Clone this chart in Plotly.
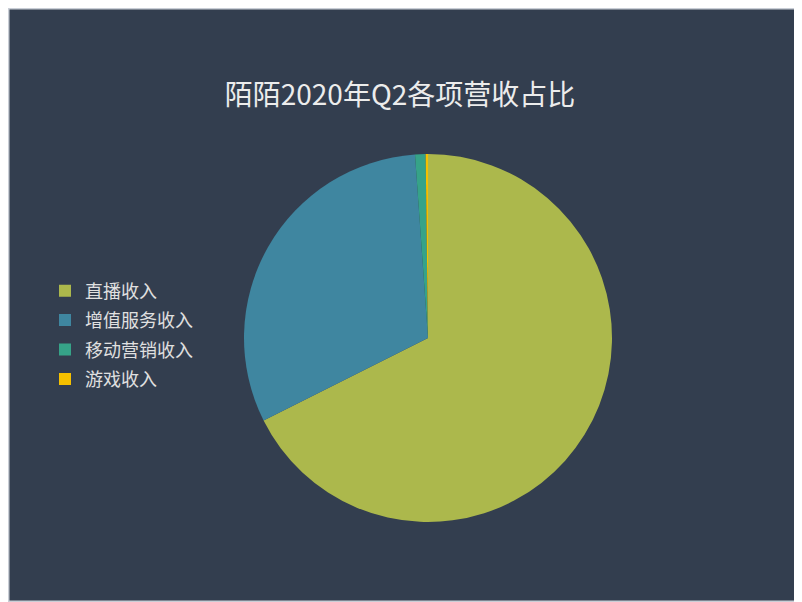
import plotly.graph_objects as go

# 陌陌 2020Q2 各项营收（百万元）
labels = ["直播收入", "增值服务收入", "移动营销收入", "游戏收入"]
revenue = [2420, 1120, 33, 7.3]
colors = ["#acb84c", "#3f86a0", "#36a388", "#f5c000"]

# page has 8px body margin, so the figure is a bit smaller than the window
W, H = 794, 594
cx, cy, r = 420, 330, 184

fig = go.Figure()
fig.add_trace(go.Pie(
    labels=labels, values=revenue, sort=False, direction="clockwise",
    rotation=0, textinfo="none", hoverinfo="label+value+percent",
    marker=dict(colors=colors, line=dict(width=0)),
    domain=dict(x=[(cx - r) / W, (cx + r) / W],
                y=[(H - cy - r) / H, (H - cy + r) / H]),
    showlegend=False,
))

# legend entries (separate groups so the row spacing can be set)
for name, c in zip(labels, colors):
    fig.add_trace(go.Scatter(x=[None], y=[None], mode="markers", name=name,
                             legendgroup=name,
                             marker=dict(symbol="square", size=12, color=c)))

fig.update_layout(
    width=W, height=H,
    margin=dict(l=0, r=0, t=0, b=0),
    paper_bgcolor="#333e4f", plot_bgcolor="rgba(0,0,0,0)",
    xaxis=dict(visible=False), yaxis=dict(visible=False),
    font=dict(family="Noto Sans CJK SC", color="#dcdcdc"),
    title=dict(text="陌陌2020年Q2各项营收占比", x=392 / W, xanchor="center",
               y=1 - 87 / H, yanchor="middle",
               font=dict(size=28, color="#ececec")),
    legend=dict(x=37 / W, xanchor="left", y=1 - 327 / H, yanchor="middle",
                font=dict(size=18, color="#e0e0e0"),
                bgcolor="rgba(0,0,0,0)", tracegroupgap=3,
                itemwidth=30),
    shapes=[dict(type="rect", xref="paper", yref="paper", x0=0, y0=0, x1=1, y1=1,
                 line=dict(color="#c9ced6", width=3))],
)

fig.write_html("out.html")
